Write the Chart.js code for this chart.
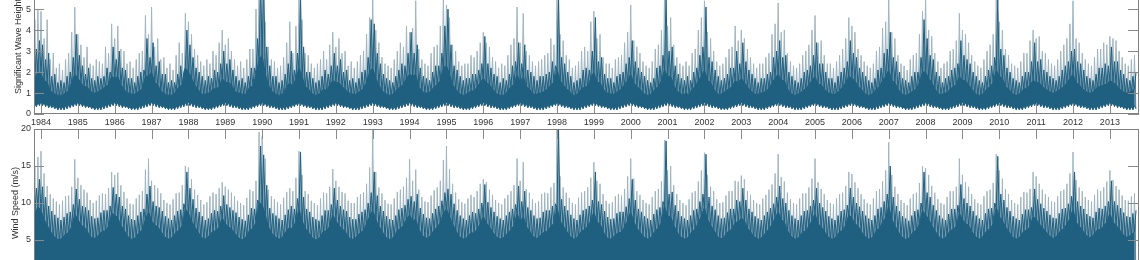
<!DOCTYPE html>
<html>
<head>
<meta charset="UTF-8">
<title>Wave height and wind speed</title>
<script src="https://cdn.jsdelivr.net/npm/chart.js"></script>
<style>
  html, body { margin: 0; padding: 0; background: #fff; overflow: hidden; width: 1140px; height: 260px; }
  #waveChart { position: absolute; left: 0; top: -60px; }
  #windChart { position: absolute; left: 0; top: 120px; }
</style>
</head>
<body>
<canvas id="waveChart" width="1140" height="200"></canvas>
<canvas id="windChart" width="1140" height="170"></canvas>
<script>
// x tick labels (Jan 1 of each year)
const yearTicks = [1984, 1985, 1986, 1987, 1988, 1989, 1990, 1991, 1992, 1993,
  1994, 1995, 1996, 1997, 1998, 1999, 2000, 2001, 2002, 2003,
  2004, 2005, 2006, 2007, 2008, 2009, 2010, 2011, 2012, 2013];
const waveTicks = [0, 1, 2, 3, 4, 5, 6, 7];
const windTicks = [0, 5, 10, 15, 20];

// monthly values, one row per season Oct..Sep (row labelled by the January year)
// significant wave height (m): highest light spikes
const waveLight = [
  [3.2, 4.5, 5.0, 4.9, 3.6, 4.5, 2.6, 2.9, 2.2, 2.4, 2.1, 2.6], // 1984
  [2.9, 3.9, 5.1, 3.8, 3.3, 2.7, 3.2, 2.4, 2.3, 2.6, 2.5, 2.4],
  [3.2, 2.9, 4.3, 3.6, 4.2, 3.1, 3.0, 2.4, 2.5, 2.2, 2.6, 2.9],
  [3.0, 4.7, 3.8, 5.1, 3.2, 3.6, 2.6, 2.7, 2.2, 2.4, 2.1, 2.8],
  [3.4, 2.9, 4.8, 4.4, 3.8, 3.1, 2.8, 2.5, 2.3, 2.6, 2.4, 3.0],
  [2.8, 3.4, 4.0, 3.3, 3.6, 3.0, 2.6, 2.3, 2.5, 2.2, 2.6, 3.1],
  [3.1, 5.0, 6.5, 7.0, 4.4, 3.2, 2.6, 2.5, 2.2, 2.3, 2.7, 3.4], // 1990
  [4.4, 2.9, 4.2, 5.7, 4.5, 2.9, 2.8, 2.4, 2.2, 2.4, 2.6, 3.0],
  [2.6, 3.3, 3.9, 3.2, 3.6, 2.9, 3.0, 2.3, 2.5, 2.2, 2.5, 2.8],
  [3.0, 3.8, 4.6, 5.7, 4.0, 3.4, 2.7, 2.4, 2.3, 2.2, 2.6, 3.0],
  [3.4, 3.2, 4.2, 3.9, 4.1, 5.4, 3.1, 2.6, 2.4, 2.3, 2.9, 3.2],
  [3.3, 4.2, 5.7, 5.2, 4.6, 3.3, 3.0, 2.5, 2.3, 2.4, 2.4, 2.8],
  [2.7, 3.0, 3.4, 3.9, 3.4, 3.2, 2.7, 2.5, 2.2, 2.4, 2.3, 2.8],
  [3.3, 3.6, 5.1, 3.4, 4.8, 3.0, 2.8, 2.5, 2.3, 2.5, 2.6, 2.8],
  [2.9, 3.6, 3.3, 5.7, 3.8, 3.5, 2.8, 2.6, 2.2, 2.3, 2.5, 3.0],
  [3.2, 3.0, 4.4, 4.9, 3.6, 3.8, 2.7, 2.4, 2.4, 2.2, 2.6, 2.7],
  [2.8, 3.4, 3.9, 5.2, 3.5, 3.2, 2.9, 2.5, 2.3, 2.2, 2.5, 3.1], // 2000
  [3.3, 4.0, 5.7, 4.2, 4.6, 3.3, 2.7, 2.4, 2.3, 2.5, 2.3, 2.9],
  [3.1, 4.0, 4.6, 5.4, 3.9, 3.6, 3.0, 2.5, 2.3, 2.4, 2.7, 3.1],
  [3.2, 4.2, 3.5, 4.0, 3.6, 3.1, 2.7, 2.4, 2.2, 2.4, 2.4, 2.7],
  [2.9, 3.8, 4.3, 5.3, 3.9, 4.0, 2.9, 2.5, 2.3, 2.2, 2.4, 2.8],
  [3.0, 3.3, 4.0, 4.7, 3.4, 3.5, 2.8, 2.4, 2.4, 2.2, 2.5, 2.8],
  [3.1, 3.6, 4.6, 4.2, 3.9, 3.1, 2.8, 2.5, 2.3, 2.2, 2.4, 3.0],
  [3.2, 4.1, 4.4, 5.7, 3.9, 3.6, 2.8, 2.4, 2.3, 2.1, 2.6, 2.8],
  [2.9, 3.8, 4.9, 5.7, 4.0, 3.7, 2.9, 2.5, 2.2, 2.4, 2.5, 3.0],
  [3.1, 3.5, 4.8, 4.0, 3.8, 3.4, 2.8, 2.5, 2.3, 2.2, 2.6, 3.0],
  [3.3, 3.8, 5.7, 4.4, 4.0, 3.1, 2.8, 2.4, 2.3, 2.2, 2.5, 2.9], // 2010
  [2.9, 3.5, 4.0, 3.6, 3.7, 3.0, 2.9, 2.6, 2.4, 2.3, 2.6, 3.0],
  [3.3, 3.6, 4.3, 5.4, 3.6, 3.4, 2.9, 2.6, 2.4, 2.3, 2.7, 3.1],
  [3.1, 3.4, 3.3, 3.7, 3.6, 3.5, 3.0, 2.7, 2.4, 2.3, 2.6, 2.8]  // 2013
];
// significant wave height (m): dark spikes
const waveDark = [
  [2.2, 3.1, 3.5, 3.3, 2.6, 2.9, 1.8, 1.9, 1.5, 1.6, 1.5, 1.8], // 1984
  [2.0, 2.7, 3.8, 2.8, 2.3, 1.9, 2.2, 1.7, 1.6, 1.8, 1.7, 1.8],
  [2.2, 2.0, 3.2, 2.6, 3.0, 2.2, 2.1, 1.7, 1.7, 1.5, 1.8, 2.0],
  [2.1, 3.6, 2.7, 3.4, 2.3, 2.5, 1.9, 1.9, 1.5, 1.6, 1.5, 1.9],
  [2.3, 2.0, 4.0, 3.3, 2.7, 2.2, 2.0, 1.8, 1.6, 1.8, 1.7, 2.1],
  [2.0, 2.4, 3.0, 2.4, 2.6, 2.1, 1.8, 1.6, 1.7, 1.5, 1.8, 2.2],
  [2.2, 3.6, 6.2, 6.5, 3.2, 2.3, 1.8, 1.8, 1.5, 1.6, 1.9, 2.4], // 1990
  [3.0, 2.1, 2.9, 5.6, 3.2, 2.0, 2.0, 1.7, 1.5, 1.6, 1.8, 2.1],
  [1.9, 2.3, 2.9, 2.3, 2.6, 2.0, 2.1, 1.6, 1.7, 1.5, 1.7, 2.0],
  [2.1, 2.7, 4.5, 4.3, 2.9, 2.4, 1.9, 1.7, 1.6, 1.5, 1.8, 2.1],
  [2.4, 2.3, 2.9, 3.9, 2.9, 3.3, 2.2, 1.8, 1.7, 1.6, 2.0, 2.3],
  [2.3, 2.9, 4.2, 5.0, 3.3, 2.3, 2.1, 1.8, 1.6, 1.7, 1.7, 1.9],
  [1.9, 2.1, 2.4, 3.7, 2.4, 2.2, 1.9, 1.8, 1.5, 1.7, 1.6, 1.9],
  [2.3, 2.5, 3.4, 2.4, 3.3, 2.1, 2.0, 1.8, 1.6, 1.8, 1.8, 1.9],
  [2.0, 2.5, 2.3, 5.6, 2.7, 2.4, 2.0, 1.8, 1.5, 1.6, 1.7, 2.1],
  [2.2, 2.1, 3.0, 4.6, 2.5, 2.7, 1.9, 1.7, 1.7, 1.5, 1.8, 1.9],
  [2.0, 2.4, 2.7, 3.5, 2.5, 2.2, 2.0, 1.8, 1.6, 1.5, 1.7, 2.2], // 2000
  [2.3, 2.8, 5.6, 3.0, 3.2, 2.3, 1.9, 1.7, 1.6, 1.8, 1.6, 2.0],
  [2.2, 2.8, 3.2, 5.1, 2.7, 2.5, 2.1, 1.8, 1.6, 1.7, 1.9, 2.2],
  [2.2, 3.0, 2.4, 3.4, 2.5, 2.1, 1.9, 1.7, 1.5, 1.7, 1.7, 1.9],
  [2.0, 2.7, 3.0, 3.5, 2.7, 2.8, 2.0, 1.8, 1.6, 1.5, 1.7, 2.0],
  [2.1, 2.3, 2.8, 3.4, 2.4, 2.4, 2.0, 1.7, 1.7, 1.5, 1.8, 2.0],
  [2.2, 2.5, 3.5, 2.9, 2.7, 2.2, 2.0, 1.8, 1.6, 1.5, 1.7, 2.1],
  [2.2, 2.9, 3.1, 3.9, 2.7, 2.5, 2.0, 1.7, 1.6, 1.5, 1.8, 2.0],
  [2.0, 2.7, 4.5, 3.6, 2.8, 2.6, 2.0, 1.8, 1.5, 1.7, 1.8, 2.1],
  [2.2, 2.4, 3.5, 2.8, 2.6, 2.4, 2.0, 1.8, 1.6, 1.5, 1.8, 2.1],
  [2.3, 2.7, 5.5, 3.1, 2.8, 2.2, 2.0, 1.7, 1.6, 1.5, 1.8, 2.0], // 2010
  [2.0, 2.5, 3.4, 2.5, 2.6, 2.1, 2.0, 1.8, 1.7, 1.6, 1.8, 2.1],
  [2.3, 2.5, 3.0, 3.1, 2.5, 2.4, 2.1, 1.8, 1.7, 1.6, 1.9, 2.2],
  [2.2, 2.4, 2.3, 3.2, 2.5, 2.5, 2.1, 1.9, 1.7, 1.6, 1.8, 2.0]  // 2013
];
// significant wave height (m): top of the dense dark band
const waveBand = [
  [1.3, 1.7, 2.0, 1.9, 1.6, 1.5, 1.1, 1.0, 0.9, 0.9, 0.9, 1.0], // 1984
  [1.1, 1.5, 1.9, 1.7, 1.5, 1.3, 1.3, 1.1, 1.0, 1.0, 1.1, 1.2],
  [1.3, 1.4, 1.8, 1.7, 1.8, 1.4, 1.2, 1.0, 1.0, 0.9, 1.0, 1.1],
  [1.2, 1.8, 1.8, 2.0, 1.5, 1.4, 1.1, 1.0, 0.9, 0.9, 0.9, 1.1],
  [1.3, 1.4, 2.2, 2.0, 1.7, 1.4, 1.2, 1.0, 0.9, 1.0, 1.0, 1.2],
  [1.2, 1.3, 1.7, 1.5, 1.5, 1.4, 1.1, 1.0, 1.0, 0.9, 1.0, 1.3],
  [1.3, 1.9, 2.6, 2.8, 1.9, 1.4, 1.1, 1.0, 0.9, 0.9, 1.0, 1.3], // 1990
  [1.5, 1.3, 1.7, 2.2, 1.8, 1.3, 1.2, 1.0, 0.9, 0.9, 1.0, 1.2],
  [1.1, 1.4, 1.6, 1.5, 1.5, 1.3, 1.2, 1.0, 1.0, 0.9, 1.0, 1.1],
  [1.2, 1.5, 2.0, 2.2, 1.7, 1.4, 1.1, 1.0, 0.9, 0.9, 1.0, 1.2],
  [1.3, 1.4, 1.7, 1.9, 1.8, 1.9, 1.3, 1.1, 1.0, 1.0, 1.1, 1.3],
  [1.4, 1.6, 2.2, 2.3, 1.9, 1.4, 1.2, 1.0, 0.9, 0.9, 1.0, 1.1],
  [1.1, 1.3, 1.5, 1.7, 1.5, 1.4, 1.2, 1.0, 0.9, 0.9, 0.9, 1.1],
  [1.3, 1.4, 1.9, 1.5, 1.8, 1.3, 1.2, 1.0, 0.9, 1.0, 1.0, 1.1],
  [1.2, 1.4, 1.5, 2.1, 1.6, 1.4, 1.2, 1.1, 0.9, 0.9, 1.0, 1.2],
  [1.3, 1.3, 1.7, 2.0, 1.5, 1.5, 1.2, 1.0, 1.0, 0.9, 1.0, 1.1],
  [1.2, 1.4, 1.6, 1.9, 1.5, 1.3, 1.2, 1.0, 0.9, 0.9, 1.0, 1.2], // 2000
  [1.3, 1.6, 2.1, 1.8, 1.8, 1.4, 1.1, 1.0, 0.9, 1.0, 0.9, 1.2],
  [1.3, 1.6, 1.8, 2.1, 1.6, 1.5, 1.2, 1.0, 0.9, 1.0, 1.1, 1.2],
  [1.3, 1.6, 1.5, 1.7, 1.5, 1.3, 1.1, 1.0, 0.9, 1.0, 1.0, 1.1],
  [1.2, 1.5, 1.7, 1.9, 1.6, 1.6, 1.2, 1.0, 0.9, 0.9, 1.0, 1.1],
  [1.2, 1.4, 1.6, 1.8, 1.4, 1.4, 1.2, 1.0, 1.0, 0.9, 1.0, 1.1],
  [1.3, 1.5, 1.8, 1.7, 1.6, 1.3, 1.2, 1.0, 0.9, 0.9, 1.0, 1.2],
  [1.3, 1.6, 1.8, 2.1, 1.6, 1.5, 1.2, 1.0, 0.9, 0.9, 1.0, 1.1],
  [1.2, 1.5, 2.0, 2.0, 1.7, 1.5, 1.2, 1.0, 0.9, 1.0, 1.0, 1.2],
  [1.3, 1.4, 1.8, 1.6, 1.6, 1.4, 1.2, 1.0, 0.9, 0.9, 1.0, 1.2],
  [1.3, 1.5, 2.1, 1.8, 1.7, 1.3, 1.2, 1.0, 0.9, 0.9, 1.0, 1.2], // 2010
  [1.2, 1.4, 1.6, 1.5, 1.5, 1.3, 1.2, 1.1, 1.0, 1.0, 1.1, 1.2],
  [1.3, 1.5, 1.7, 1.9, 1.5, 1.4, 1.2, 1.1, 1.0, 1.0, 1.1, 1.3],
  [1.3, 1.4, 1.4, 1.6, 1.5, 1.4, 1.2, 1.1, 1.0, 1.0, 1.1, 1.2]  // 2013
];
// wind speed (m/s): highest light spikes
const windLight = [
  [12.4, 15.0, 16.2, 17.0, 14.0, 12.3, 11.2, 10.6, 10.2, 9.8, 10.3, 10.9], // 1984
  [11.0, 12.2, 15.9, 13.4, 12.4, 11.8, 11.4, 10.4, 10.0, 10.3, 11.0, 11.3],
  [11.2, 12.0, 14.2, 13.8, 14.1, 12.4, 11.5, 10.6, 9.9, 9.8, 10.6, 11.1],
  [11.6, 14.5, 16.0, 13.0, 12.4, 12.0, 11.3, 10.4, 10.0, 9.8, 10.5, 11.3],
  [11.4, 12.4, 15.0, 14.8, 13.2, 11.8, 11.1, 10.4, 9.8, 10.1, 10.9, 11.4],
  [11.2, 12.0, 12.8, 12.2, 11.8, 11.4, 10.9, 10.3, 10.0, 9.7, 10.7, 11.8],
  [11.6, 13.0, 19.6, 19.0, 16.0, 11.8, 10.9, 10.5, 10.1, 9.8, 10.7, 11.5], // 1990
  [12.0, 11.6, 13.4, 17.0, 13.8, 11.6, 11.2, 10.3, 10.0, 9.7, 10.6, 11.4],
  [11.3, 12.2, 14.6, 13.0, 12.2, 11.5, 11.3, 10.3, 10.0, 10.0, 10.8, 11.2],
  [11.4, 12.6, 14.8, 20.0, 14.2, 12.1, 11.3, 10.4, 9.9, 9.8, 10.6, 11.5],
  [11.8, 12.2, 13.4, 15.9, 13.0, 14.5, 11.8, 10.8, 10.2, 10.1, 11.0, 11.7],
  [12.1, 13.0, 15.8, 17.7, 14.6, 12.6, 11.4, 10.5, 10.1, 9.9, 10.6, 11.1],
  [10.8, 11.6, 12.6, 13.2, 12.8, 11.8, 11.1, 10.4, 10.0, 9.8, 10.6, 11.1],
  [11.6, 12.4, 16.0, 13.0, 15.5, 11.9, 11.4, 10.5, 10.0, 10.2, 11.2, 11.4],
  [11.3, 12.1, 12.7, 20.0, 13.6, 12.1, 11.4, 10.7, 10.0, 9.8, 10.7, 11.4],
  [11.6, 12.1, 13.4, 15.5, 13.0, 12.6, 11.2, 10.3, 9.9, 10.1, 10.9, 11.2],
  [11.0, 11.9, 13.6, 16.0, 13.3, 11.6, 11.1, 10.4, 10.0, 9.8, 10.8, 11.6], // 2000
  [11.9, 12.9, 18.5, 14.4, 15.0, 12.4, 11.2, 10.4, 10.0, 9.7, 10.5, 11.4],
  [11.6, 12.9, 14.4, 16.8, 13.8, 12.2, 11.6, 10.5, 10.0, 10.1, 11.0, 11.6],
  [11.6, 13.0, 12.9, 13.7, 13.2, 11.6, 11.1, 10.4, 10.0, 9.8, 10.6, 11.1],
  [11.8, 12.5, 14.0, 16.6, 13.5, 12.9, 11.4, 10.5, 10.0, 9.8, 10.6, 11.3],
  [11.3, 12.1, 13.3, 16.0, 12.8, 11.9, 11.2, 10.4, 10.0, 9.8, 10.6, 11.2],
  [11.4, 12.3, 14.2, 13.9, 12.8, 12.0, 11.2, 10.5, 10.0, 9.8, 10.6, 11.6],
  [11.9, 12.9, 14.4, 18.2, 13.8, 12.2, 11.2, 10.4, 10.0, 9.7, 10.6, 11.2],
  [11.4, 12.7, 15.0, 14.7, 13.8, 12.3, 11.4, 10.5, 10.0, 9.8, 10.8, 11.6],
  [11.6, 12.2, 16.0, 13.8, 12.8, 12.2, 11.2, 10.5, 10.0, 9.8, 10.9, 11.6],
  [11.8, 12.7, 16.6, 14.4, 13.3, 11.9, 11.2, 10.4, 10.0, 9.8, 10.8, 11.5], // 2010
  [11.4, 11.9, 14.2, 13.6, 12.6, 11.8, 11.2, 10.8, 10.2, 10.1, 10.9, 11.6],
  [11.8, 12.6, 14.0, 16.9, 13.1, 12.1, 11.6, 10.8, 10.4, 10.2, 11.1, 11.8],
  [11.6, 12.1, 12.9, 14.4, 13.1, 12.3, 11.8, 11.0, 10.4, 10.3, 10.9, 11.3]  // 2013
];
// wind speed (m/s): dark spikes
const windDark = [
  [9.5, 12.0, 13.2, 12.2, 10.8, 9.6, 8.9, 8.4, 8.0, 7.7, 8.1, 8.6], // 1984
  [8.8, 9.8, 11.9, 10.5, 9.6, 9.4, 9.0, 8.2, 7.9, 8.0, 8.7, 9.0],
  [9.0, 9.6, 12.1, 11.2, 10.8, 9.6, 9.2, 8.3, 7.8, 7.7, 8.3, 8.8],
  [9.2, 11.2, 12.3, 10.2, 9.6, 9.4, 8.9, 8.2, 7.9, 7.7, 8.3, 8.9],
  [9.1, 9.9, 14.2, 12.0, 10.5, 9.3, 8.8, 8.2, 7.7, 7.9, 8.6, 9.0],
  [8.9, 9.6, 11.0, 9.8, 9.4, 9.0, 8.7, 8.1, 7.8, 7.6, 8.4, 9.3],
  [9.2, 10.4, 17.7, 16.5, 12.4, 9.3, 8.6, 8.3, 7.9, 7.7, 8.4, 9.1], // 1990
  [9.6, 9.2, 10.6, 16.9, 10.8, 9.2, 8.8, 8.1, 7.8, 7.6, 8.3, 9.0],
  [9.0, 9.8, 12.0, 10.4, 9.6, 9.1, 8.9, 8.1, 7.8, 7.8, 8.5, 8.8],
  [9.1, 10.0, 11.4, 14.2, 11.0, 9.6, 8.9, 8.2, 7.8, 7.7, 8.3, 9.1],
  [9.3, 9.7, 10.5, 10.9, 10.2, 11.2, 9.3, 8.5, 8.0, 7.9, 8.6, 9.2],
  [9.6, 10.3, 11.4, 11.9, 11.2, 9.9, 9.0, 8.3, 7.9, 7.7, 8.3, 8.8],
  [8.6, 9.2, 10.0, 12.5, 10.1, 9.4, 8.8, 8.2, 7.9, 7.7, 8.3, 8.8],
  [9.2, 9.8, 12.3, 10.2, 11.6, 9.4, 9.0, 8.3, 7.9, 8.0, 8.8, 9.0],
  [9.0, 9.6, 9.9, 20.0, 10.5, 9.6, 9.0, 8.4, 7.9, 7.7, 8.4, 9.0],
  [9.2, 9.6, 10.4, 14.2, 10.2, 9.8, 8.9, 8.1, 7.8, 7.9, 8.6, 8.8],
  [8.8, 9.5, 10.6, 13.2, 10.4, 9.2, 8.8, 8.2, 7.9, 7.7, 8.5, 9.1], // 2000
  [9.4, 10.2, 18.4, 11.2, 11.5, 9.7, 8.9, 8.2, 7.9, 7.7, 8.3, 9.0],
  [9.2, 10.2, 11.2, 16.6, 10.8, 9.6, 9.1, 8.3, 7.9, 8.0, 8.7, 9.2],
  [9.2, 10.4, 10.2, 12.0, 10.4, 9.2, 8.8, 8.2, 7.9, 7.7, 8.3, 8.8],
  [9.3, 9.9, 10.8, 12.3, 10.6, 10.0, 9.0, 8.3, 7.9, 7.7, 8.3, 8.9],
  [9.0, 9.6, 10.4, 12.0, 10.0, 9.4, 8.9, 8.2, 7.9, 7.7, 8.3, 8.9],
  [9.1, 9.7, 12.0, 10.8, 10.0, 9.5, 8.9, 8.3, 7.9, 7.7, 8.3, 9.2],
  [9.4, 10.2, 11.2, 15.0, 10.8, 9.6, 8.9, 8.2, 7.9, 7.6, 8.3, 8.9],
  [9.1, 10.0, 14.2, 11.4, 10.8, 9.7, 9.0, 8.3, 7.9, 7.7, 8.5, 9.2],
  [9.2, 9.7, 12.5, 10.6, 10.0, 9.6, 8.9, 8.3, 7.9, 7.7, 8.6, 9.2],
  [9.3, 10.0, 16.3, 11.2, 10.4, 9.4, 8.9, 8.2, 7.9, 7.7, 8.5, 9.1], // 2010
  [9.1, 9.4, 11.9, 10.5, 9.9, 9.3, 8.9, 8.4, 8.0, 7.9, 8.6, 9.2],
  [9.3, 9.9, 10.9, 14.2, 10.2, 9.6, 9.2, 8.5, 8.2, 8.0, 8.8, 9.3],
  [9.2, 9.6, 10.2, 13.0, 10.2, 9.7, 9.3, 8.7, 8.2, 8.1, 8.6, 9.0]  // 2013
];
// wind speed (m/s): top of the dense dark fill
const windBand = [
  [6.5, 8.5, 9.5, 9.0, 7.8, 7.0, 6.2, 5.6, 5.2, 5.0, 5.3, 5.8], // 1984
  [6.0, 6.8, 8.5, 7.8, 7.0, 6.8, 6.2, 5.5, 5.2, 5.3, 5.8, 6.2],
  [6.2, 6.9, 8.6, 8.4, 8.0, 7.0, 6.4, 5.6, 5.2, 5.0, 5.5, 6.0],
  [6.4, 7.8, 8.8, 7.6, 7.0, 6.8, 6.2, 5.5, 5.2, 5.1, 5.5, 6.1],
  [6.3, 7.0, 9.2, 8.6, 7.6, 6.8, 6.2, 5.5, 5.1, 5.2, 5.7, 6.2],
  [6.2, 6.8, 8.0, 7.2, 6.8, 6.5, 6.0, 5.4, 5.1, 5.0, 5.6, 6.4],
  [6.5, 7.4, 10.0, 9.8, 8.4, 6.8, 6.0, 5.5, 5.2, 5.1, 5.6, 6.3], // 1990
  [6.7, 6.5, 7.6, 9.2, 7.6, 6.6, 6.1, 5.4, 5.1, 5.0, 5.5, 6.2],
  [6.2, 6.9, 8.4, 7.6, 7.0, 6.5, 6.2, 5.4, 5.1, 5.1, 5.6, 6.0],
  [6.3, 7.2, 8.2, 9.0, 7.8, 6.9, 6.2, 5.5, 5.1, 5.1, 5.5, 6.3],
  [6.5, 7.0, 7.8, 8.4, 7.6, 7.8, 6.5, 5.7, 5.3, 5.2, 5.7, 6.4],
  [6.7, 7.4, 8.6, 9.2, 8.2, 7.2, 6.3, 5.6, 5.2, 5.1, 5.5, 6.0],
  [5.9, 6.5, 7.2, 8.2, 7.3, 6.8, 6.1, 5.5, 5.2, 5.1, 5.5, 6.0],
  [6.4, 7.0, 8.6, 7.4, 8.2, 6.8, 6.3, 5.6, 5.2, 5.3, 5.8, 6.1],
  [6.2, 6.9, 7.2, 9.4, 7.6, 6.9, 6.3, 5.6, 5.2, 5.1, 5.6, 6.2],
  [6.4, 6.9, 7.6, 8.8, 7.4, 7.2, 6.2, 5.4, 5.1, 5.2, 5.7, 6.0],
  [6.0, 6.8, 7.6, 8.8, 7.5, 6.6, 6.1, 5.5, 5.2, 5.1, 5.6, 6.3], // 2000
  [6.6, 7.4, 9.6, 8.2, 8.2, 7.0, 6.2, 5.5, 5.2, 5.1, 5.5, 6.2],
  [6.4, 7.4, 8.2, 9.4, 7.8, 7.0, 6.4, 5.6, 5.2, 5.2, 5.8, 6.3],
  [6.4, 7.4, 7.4, 8.0, 7.6, 6.6, 6.1, 5.5, 5.2, 5.1, 5.5, 6.0],
  [6.5, 7.1, 8.0, 8.8, 7.8, 7.4, 6.3, 5.6, 5.2, 5.1, 5.5, 6.1],
  [6.2, 6.9, 7.6, 8.6, 7.2, 6.8, 6.2, 5.5, 5.2, 5.1, 5.5, 6.1],
  [6.3, 7.0, 8.4, 8.0, 7.2, 6.9, 6.2, 5.6, 5.2, 5.1, 5.5, 6.3],
  [6.6, 7.4, 8.0, 9.6, 7.8, 7.0, 6.2, 5.5, 5.2, 5.0, 5.5, 6.1],
  [6.3, 7.2, 9.0, 8.4, 7.8, 7.0, 6.3, 5.6, 5.2, 5.1, 5.6, 6.3],
  [6.4, 6.9, 8.6, 7.8, 7.2, 7.0, 6.2, 5.6, 5.2, 5.1, 5.7, 6.3],
  [6.5, 7.2, 9.4, 8.2, 7.6, 6.8, 6.2, 5.5, 5.2, 5.1, 5.6, 6.2], // 2010
  [6.3, 6.8, 8.2, 7.8, 7.2, 6.7, 6.2, 5.7, 5.3, 5.2, 5.7, 6.3],
  [6.5, 7.2, 7.9, 9.2, 7.4, 6.9, 6.4, 5.7, 5.4, 5.3, 5.9, 6.4],
  [6.4, 6.9, 7.4, 8.6, 7.4, 7.0, 6.5, 5.9, 5.4, 5.4, 5.7, 6.1]  // 2013
];
// typical monthly lows, Oct..Sep
const waveLowLight = [0.30, 0.35, 0.40, 0.40, 0.35, 0.30, 0.30, 0.25, 0.20, 0.20, 0.20, 0.25];
const waveLowDark  = [0.45, 0.50, 0.55, 0.60, 0.55, 0.50, 0.45, 0.40, 0.35, 0.35, 0.35, 0.40];
const windLowLight = [0.8, 1.0, 1.2, 1.2, 1.0, 0.9, 0.8, 0.7, 0.6, 0.6, 0.6, 0.7];

const DARK = '#1f5f7f';
const DARK_FILL = 'rgba(31, 95, 127, 0.55)';
const LIGHT = '#9fb5c1';
const LIGHT_FILL = '#c8d5dc';
const TICK = '#8a8a8a';
const START = 1983.75; // first row begins October 1983

// spike series: base at the start of each month, high at mid-month (or the other way round)
// base is either a 12-value climatology or a row-per-season table like the highs
function spikes(rows, base, highFirst) {
  const pts = [];
  rows.forEach(function(row, r) {
    row.forEach(function(v, m) {
      const t = START + r + m / 12;
      const b = Array.isArray(base[0]) ? base[r][m] : base[m];
      if (highFirst) {
        pts.push({x: t, y: v});
        pts.push({x: t + 1 / 24, y: b});
      } else {
        pts.push({x: t, y: b});
        pts.push({x: t + 1 / 24, y: v});
      }
    });
  });
  return pts;
}

// one point per month (band edges)
function monthly(rows) {
  const pts = [];
  rows.forEach(function(row, r) {
    row.forEach(function(v, m) { pts.push({x: START + r + m / 12, y: v}); });
  });
  return pts;
}

function climatology(lows) {
  return yearTicks.map(function() { return lows; });
}

// inward tick marks and plot frame
const frameTicks = {
  id: 'frameTicks',
  afterDatasetsDraw(chart, args, opts) {
    const ctx = chart.ctx, a = chart.chartArea;
    const x = chart.scales.x, y = chart.scales.y;
    ctx.save();
    ctx.strokeStyle = TICK;
    ctx.lineWidth = 1;
    ctx.beginPath();
    yearTicks.forEach(function(v) {
      const px = Math.round(x.getPixelForValue(v)) + 0.5;
      if (opts.side === 'bottom') {
        ctx.moveTo(px, a.bottom); ctx.lineTo(px, a.bottom - 10);
      } else {
        ctx.moveTo(px, a.top); ctx.lineTo(px, a.top + 10);
      }
    });
    opts.yTicks.forEach(function(v) {
      const py = Math.round(y.getPixelForValue(v)) + 0.5;
      ctx.moveTo(a.left, py); ctx.lineTo(a.left + 10, py);
      ctx.moveTo(a.right, py); ctx.lineTo(a.right - 11, py);
    });
    ctx.stroke();
    ctx.strokeStyle = '#808080';
    ctx.strokeRect(a.left + 0.5, a.top + 0.5, a.width - 1, a.height - 1);
    ctx.restore();
  }
};

const font = {family: "'Liberation Sans', Arial, sans-serif", size: 9};

function makeChart(id, cfg) {
  const line = {pointRadius: 0, tension: 0, borderWidth: 1};
  const floor = cfg.bandBottom ? 2 : 'origin';
  return new Chart(document.getElementById(id), {
    type: 'line',
    data: {
      datasets: [
        // 0: dark spikes rising from the band
        Object.assign({data: spikes(cfg.dark, cfg.band, false), borderColor: DARK,
          backgroundColor: DARK_FILL, fill: floor}, line),
        // 1: dense dark band
        Object.assign({data: monthly(cfg.band), borderColor: DARK, backgroundColor: DARK,
          fill: floor, borderWidth: 0}, line),
        // 2: ragged lower edge of the band (teeth down to the light lows)
        Object.assign({data: cfg.bandBottom ? spikes(climatology(cfg.lowLight), cfg.bandBottom, false) : [],
          borderColor: DARK, fill: false}, line),
        // 3: light spikes behind everything
        Object.assign({data: spikes(cfg.light, cfg.lowLight, true), borderColor: LIGHT,
          backgroundColor: LIGHT_FILL, fill: floor}, line)
      ]
    },
    options: {
      responsive: false,
      animation: false,
      events: [],
      layout: {padding: cfg.padding},
      plugins: {
        legend: {display: false},
        tooltip: {enabled: false},
        frameTicks: {side: cfg.side, yTicks: cfg.yTicks}
      },
      scales: {
        x: {
          type: 'linear',
          min: 1983.81,
          max: 2013.79,
          display: cfg.showX,
          grid: {display: false, drawTicks: false},
          border: {display: false},
          afterBuildTicks: function(s) { s.ticks = yearTicks.map(function(v) { return {value: v}; }); },
          afterFit: function(s) { s.height = cfg.xHeight; },
          ticks: {
            font: font, color: '#333', padding: 3, maxRotation: 0, autoSkip: false,
            callback: function(v) { return String(v); }
          }
        },
        y: {
          type: 'linear',
          min: cfg.yMin,
          max: cfg.yMax,
          grid: {display: false, drawTicks: false},
          border: {display: false},
          afterBuildTicks: function(s) { s.ticks = cfg.yTicks.map(function(v) { return {value: v}; }); },
          afterFit: function(s) { s.width = 34; },
          ticks: {font: font, color: '#333', padding: 3},
          title: {display: true, text: cfg.title, font: font, color: '#333', padding: {top: cfg.titlePad, bottom: 0}}
        }
      }
    },
    plugins: [frameTicks]
  });
}

makeChart('waveChart', {
  dark: waveDark, band: waveBand, bandBottom: waveLowDark,
  light: waveLight, lowLight: waveLowLight,
  side: 'bottom', yTicks: waveTicks, yMin: 0, yMax: 7.2,
  title: 'Significant Wave Height (m)', titlePad: 13, showX: true, xHeight: 26,
  padding: {top: 23, right: 1, bottom: 0, left: 0}
});

makeChart('windChart', {
  dark: windDark, band: windBand, bandBottom: null,
  light: windLight, lowLight: windLowLight,
  side: 'top', yTicks: windTicks, yMin: 0, yMax: 20,
  title: 'Wind Speed (m/s)', titlePad: 10, showX: false, xHeight: 0,
  padding: {top: 9, right: 1, bottom: 13, left: 0}
});
</script>
</body>
</html>
